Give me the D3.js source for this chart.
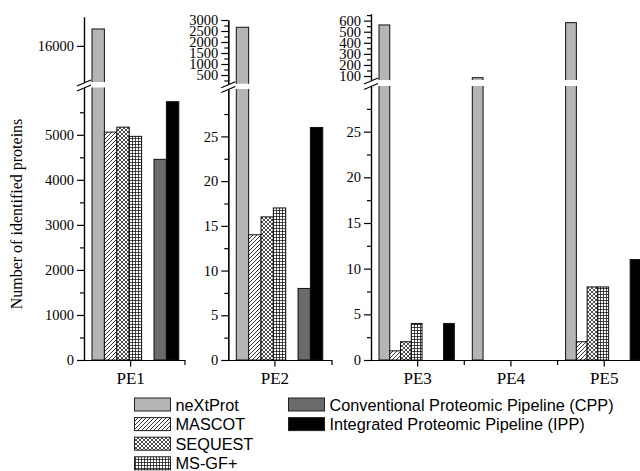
<!DOCTYPE html>
<html>
<head>
<meta charset="utf-8">
<script src="https://cdn.jsdelivr.net/npm/d3@7"></script>
<style>
  html, body { margin: 0; padding: 0; background: #fff; }
  svg { display: block; }
</style>
</head>
<body>
<script>
// data
const categories = ["PE1", "PE2", "PE3", "PE4", "PE5"];
const seriesKeys = ["neXtProt", "MASCOT", "SEQUEST", "MS-GF+", "CPP", "IPP"];
const neXtProt = [16515, 2670, 561, 85, 582];
const mascot   = [5060, 14, 1, 0, 2];
const sequest  = [5170, 16, 2, 0, 8];
const msgf     = [4965, 17, 4, 0, 8];
const cpp      = [4455, 8, 0, 0, 0];
const ipp      = [5735, 26, 4, 0, 11];
const legendLabels = ["neXtProt", "MASCOT", "SEQUEST", "MS-GF+",
  "Conventional Proteomic Pipeline (CPP)", "Integrated Proteomic Pipeline (IPP)"];

const values = { "neXtProt": neXtProt, "MASCOT": mascot, "SEQUEST": sequest,
  "MS-GF+": msgf, "CPP": cpp, "IPP": ipp };

const W = 640, H = 471;
const y0 = 360;          // baseline
const bandW = 93.3;
const barOffset = 8;

const panels = [
  { cats: ["PE1"], x0: 84, x1: 185, slot: 12.4,
    lower: { domain: [0, 6050], top: 87.5, major: d3.range(0, 5001, 1000), minor: d3.range(500, 6050, 1000) },
    upper: { domain: [14900, 16880], range: [82, 17], major: [16000], minor: [] } },
  { cats: ["PE2"], x0: 228.3, x1: 332, slot: 12.35,
    lower: { domain: [0, 30.3], top: 89, major: d3.range(0, 26, 5), minor: d3.range(2.5, 30.3, 5) },
    upper: { domain: [100, 3000], range: [83.8, 20], major: d3.range(500, 3001, 500), minor: d3.range(250, 3000, 500) } },
  { cats: ["PE3", "PE4", "PE5"], x0: 371, x1: 651, slot: 10.76,
    lower: { domain: [0, 30], top: 86, major: d3.range(0, 26, 5), minor: d3.range(2.5, 30, 5) },
    upper: { domain: [64, 660], range: [80, 14], major: d3.range(100, 601, 100), minor: d3.range(150, 660, 100) } }
];

const slotKeys = ["neXtProt", "MASCOT", "SEQUEST", "MS-GF+", "gap", "CPP", "IPP"];
const fills = {
  "neXtProt": "#b5b5b5", "MASCOT": "url(#pat-mascot)", "SEQUEST": "url(#pat-sequest)",
  "MS-GF+": "url(#pat-msgf)", "CPP": "#6b6b6b", "IPP": "#000"
};

const svg = d3.select("body").append("svg")
  .attr("width", W).attr("height", H)
  .attr("viewBox", [0, 0, W, H]);

svg.append("rect").attr("width", W).attr("height", H).attr("fill", "#fff");

const defs = svg.append("defs");

function makePattern(id, size, d, sw) {
  const p = defs.append("pattern").attr("id", id)
    .attr("patternUnits", "userSpaceOnUse")
    .attr("width", size).attr("height", size);
  p.append("rect").attr("width", size).attr("height", size).attr("fill", "#fff");
  p.append("path").attr("d", d).attr("stroke", "#000").attr("stroke-width", sw).attr("fill", "none");
}
makePattern("pat-mascot", 4, "M-1,1 L1,-1 M0,4 L4,0 M3,5 L5,3", 0.8);
makePattern("pat-sequest", 4, "M-1,1 L1,-1 M0,4 L4,0 M3,5 L5,3 M-1,3 L1,5 M0,0 L4,4 M3,-1 L5,1", 0.7);
makePattern("pat-msgf", 3, "M0,0.5 H3 M0.5,0 V3", 0.7);

const serif = "'Liberation Serif', 'Times New Roman', serif";
const sans = "'Liberation Sans', Arial, sans-serif";

panels.forEach((p, pi) => {
  const g = svg.append("g");
  const xBand = d3.scaleBand().domain(p.cats).range([p.x0, p.x0 + p.cats.length * bandW]);
  const xIn = d3.scaleBand().domain(slotKeys).range([barOffset, barOffset + 7 * p.slot]);

  const yLow = d3.scaleLinear().domain(p.lower.domain).range([y0, p.lower.top]);
  const yUp = d3.scaleLinear().domain(p.upper.domain).range(p.upper.range);

  // clip paths for the two segments
  const clipLow = `clip-low-${pi}`, clipUp = `clip-up-${pi}`;
  defs.append("clipPath").attr("id", clipLow).append("rect")
    .attr("x", 0).attr("y", p.lower.top).attr("width", W).attr("height", H);
  defs.append("clipPath").attr("id", clipUp).append("rect")
    .attr("x", 0).attr("y", 0).attr("width", W).attr("height", p.upper.range[0]);

  const bars = [];
  p.cats.forEach(c => {
    const ci = categories.indexOf(c);
    seriesKeys.forEach(k => {
      const v = values[k][ci];
      if (v > 0) bars.push({ cat: c, key: k, v });
    });
  });

  const lowTop = d => d.v > p.lower.domain[1] ? p.lower.top - 10 : yLow(d.v);
  const gLow = g.append("g").attr("clip-path", `url(#${clipLow})`);
  gLow.selectAll("rect").data(bars).join("rect")
    .attr("x", d => xBand(d.cat) + xIn(d.key))
    .attr("width", xIn.bandwidth())
    .attr("y", lowTop)
    .attr("height", d => y0 - lowTop(d))
    .attr("fill", d => fills[d.key])
    .attr("stroke", "#111").attr("stroke-width", 1);

  const gUp = g.append("g").attr("clip-path", `url(#${clipUp})`);
  gUp.selectAll("rect").data(bars.filter(d => d.v > p.upper.domain[0])).join("rect")
    .attr("x", d => xBand(d.cat) + xIn(d.key))
    .attr("width", xIn.bandwidth())
    .attr("y", d => yUp(d.v))
    .attr("height", d => p.upper.range[0] + 10 - yUp(d.v))
    .attr("fill", d => fills[d.key])
    .attr("stroke", "#111").attr("stroke-width", 1);

  // y axes (two segments)
  const axisStyle = sel => {
    sel.selectAll("path, line").attr("stroke", "#000").attr("stroke-width", 1.2);
    sel.selectAll("text").attr("font-family", serif).attr("font-size", 14.5).attr("fill", "#000");
  };
  [[yLow, p.lower], [yUp, p.upper]].forEach(([sc, seg]) => {
    g.append("g").attr("transform", `translate(${p.x0},0)`)
      .call(d3.axisLeft(sc).tickValues(seg.minor).tickSize(4).tickSizeOuter(0).tickFormat(""))
      .call(axisStyle);
    g.append("g").attr("transform", `translate(${p.x0},0)`)
      .call(d3.axisLeft(sc).tickValues(seg.major).tickSize(7).tickSizeOuter(0).tickPadding(3)
        .tickFormat(d3.format("d")))
      .call(axisStyle);
  });

  // break marks
  [p.upper.range[0] + 1, p.lower.top + 0.5].forEach(yb => {
    g.append("line")
      .attr("x1", p.x0 - 7).attr("y1", yb + 3)
      .attr("x2", p.x0 + 7).attr("y2", yb - 3)
      .attr("stroke", "#000").attr("stroke-width", 1.2);
  });

  // x axis
  g.append("line").attr("x1", p.x0).attr("x2", p.x1).attr("y1", y0 + 0.5).attr("y2", y0 + 0.5)
    .attr("stroke", "#000").attr("stroke-width", 1.2);
  const edges = p.cats.slice(1).map(c => xBand(c)).concat([p.x1]);
  g.selectAll(".edge").data(edges).join("line")
    .attr("x1", d => d).attr("x2", d => d).attr("y1", y0).attr("y2", y0 + 5)
    .attr("stroke", "#000").attr("stroke-width", 1.2);
  const gx = g.append("g").attr("transform", `translate(0,${y0 + 0.5})`)
    .call(d3.axisBottom(xBand).tickSize(6).tickSizeOuter(0).tickPadding(5));
  gx.select(".domain").remove();
  gx.selectAll("line").attr("stroke", "#000").attr("stroke-width", 1.2);
  gx.selectAll("text").attr("font-family", serif).attr("font-size", 17).attr("fill", "#000");
});

// y title
svg.append("text")
  .attr("transform", "translate(22,214) rotate(-90)")
  .attr("text-anchor", "middle")
  .attr("font-family", serif).attr("font-size", 16)
  .text("Number of identified proteins");

// legend
const legendCols = [
  { x: 134.5, keys: ["neXtProt", "MASCOT", "SEQUEST", "MS-GF+"], labels: legendLabels.slice(0, 4) },
  { x: 288.5, keys: ["CPP", "IPP"], labels: legendLabels.slice(4) }
];
legendCols.forEach(col => {
  const items = col.keys.map((k, i) => ({ k, label: col.labels[i], i }));
  const gl = svg.append("g");
  gl.selectAll("rect").data(items).join("rect")
    .attr("x", col.x).attr("y", d => 398 + d.i * 19.6)
    .attr("width", 36).attr("height", 13)
    .attr("fill", d => fills[d.k]).attr("stroke", "#222").attr("stroke-width", 1);
  gl.selectAll("text").data(items).join("text")
    .attr("x", col.x + 41).attr("y", d => 398 + d.i * 19.6 + 12.5)
    .attr("font-family", sans).attr("font-size", 16.3)
    .text(d => d.label);
});
</script>
</body>
</html>
